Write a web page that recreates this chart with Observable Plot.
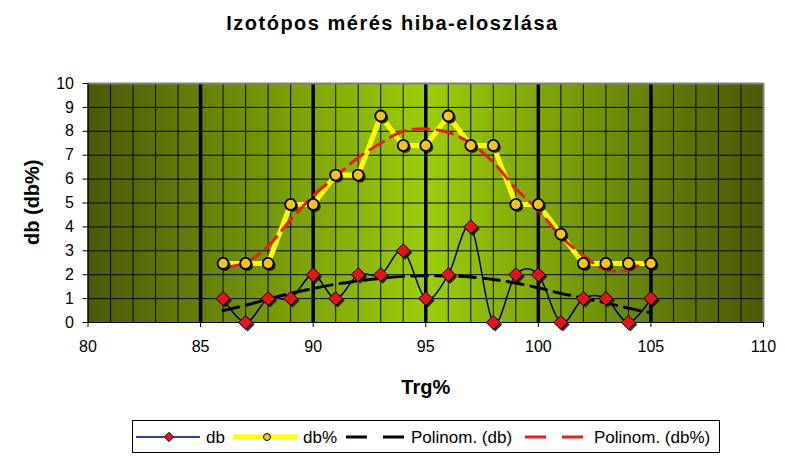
<!DOCTYPE html>
<html><head><meta charset="utf-8">
<script src="https://cdn.jsdelivr.net/npm/d3@7"></script>
<script src="https://cdn.jsdelivr.net/npm/@observablehq/plot@0.6"></script>
<style>
body{margin:0;background:#fff;font-family:"Liberation Sans",Arial,sans-serif;width:785px;height:460px;overflow:hidden;position:relative}
#title{position:absolute;top:12px;left:0;width:785px;text-align:center;font-weight:bold;font-size:20px;letter-spacing:1.5px;color:#000}
#chart{position:absolute;top:55px;left:0}
#legend{position:absolute;left:132px;top:420px}
</style></head><body>
<div id="title">Izotópos mérés hiba-eloszlása</div>
<div id="chart"></div>
<div id="legend"></div>
<script>
const trg = [86,87,88,89,90,91,92,93,94,95,96,97,98,99,100,101,102,103,104,105];
const db = [1,0,1,1,2,1,2,2,3,1,2,4,0,2,2,0,1,1,0,1];
const dbPct = [2.47,2.47,2.47,4.94,4.94,6.17,6.17,8.64,7.41,7.41,8.64,7.41,7.41,4.94,4.94,3.70,2.47,2.47,2.47,2.47];
const trendDb = [0.5,0.72,0.98,1.22,1.42,1.6,1.74,1.85,1.93,1.96,1.95,1.9,1.8,1.65,1.45,1.22,1.02,0.82,0.6,0.4];
const trendDbPct = [2.3,2.5,3.2,4.3,5.3,6.1,6.9,7.5,8.0,8.1,7.95,7.5,6.7,5.6,4.7,3.6,2.8,2.2,2.2,2.7];
const xTicks = [80,85,90,95,100,105,110];
const xMinor = [80,81,82,83,84,85,86,87,88,89,90,91,92,93,94,95,96,97,98,99,100,101,102,103,104,105,106,107,108,109,110];
const xMajor = [85,90,95,100,105];
const yTicks = [0,1,2,3,4,5,6,7,8,9,10];
const xTitle = "Trg%";
const yTitle = "db (db%)";
const seriesNames = ["db","db%","Polinom. (db)","Polinom. (db%)"];

const data = trg.map((x,i)=>({x, db:db[i], pct:dbPct[i], tDb:trendDb[i], tPct:trendDbPct[i]}));

function defsMark(){
  const d = d3.create("svg:defs");
  const lg = d.append("linearGradient").attr("id","bg").attr("x1","0").attr("x2","1").attr("y1","0").attr("y2","0");
  [["0","#4a5908"],["0.5","#9ccd0b"],["1","#4a5908"]].forEach(([o,c])=>lg.append("stop").attr("offset",o).attr("stop-color",c));
  return d.node();
}

const chart = Plot.plot({
  width:785, height:360,
  marginTop:28, marginLeft:87.5, marginRight:22, marginBottom:93,
  x:{domain:[80,110]},
  y:{domain:[0,10]},
  style:{fontFamily:"'Liberation Sans',Arial,sans-serif", color:"#000", background:"transparent"},
  marks:[
    defsMark,
    Plot.frame({fill:"url(#bg)", stroke:"none"}),
    Plot.ruleX(xMinor, {stroke:"#0a0a00", strokeWidth:1}),
    Plot.ruleY(yTicks, {stroke:"#0a0a00", strokeWidth:1}),
    Plot.ruleX(xMajor, {stroke:"#000", strokeWidth:3.5}),
    Plot.ruleY([10], {stroke:"#808080", strokeWidth:2}),
    Plot.ruleX([110], {stroke:"#808080", strokeWidth:2}),
    Plot.ruleX([80], {stroke:"#000", strokeWidth:1}),
    Plot.ruleY([0], {stroke:"#000", strokeWidth:1}),
    Plot.axisY(yTicks, {tickSize:5, tickPadding:9, fontSize:16, label:null}),
    Plot.axisX(xTicks, {tickSize:5, tickPadding:13, fontSize:16, label:null}),
    Plot.line(data, {x:"x", y:"pct", stroke:"#ffff00", strokeWidth:5}),
    Plot.line(data, {x:"x", y:"db", stroke:"#000080", strokeWidth:1.5, curve:"cardinal"}),
    Plot.line(data, {x:"x", y:"tPct", stroke:"#e3231b", strokeWidth:3, strokeDasharray:"16,8", curve:"catmull-rom"}),
    Plot.line(data, {x:"x", y:"tDb", stroke:"#000", strokeWidth:3, strokeDasharray:"16,8", curve:"catmull-rom"}),
    Plot.dot(data, {x:"x", y:"db", symbol:"diamond2", r:6.3, fill:"#111", fillOpacity:0.85, stroke:"none", dx:2, dy:2}),
    Plot.dot(data, {x:"x", y:"db", symbol:"diamond2", r:6.3, fill:"#e5141b", stroke:"#000", strokeWidth:1}),
    Plot.dot(data, {x:"x", y:"pct", r:5.5, fill:"#111", fillOpacity:0.85, stroke:"none", dx:2, dy:2}),
    Plot.dot(data, {x:"x", y:"pct", r:5.5, fill:"#f2c21f", stroke:"#000", strokeWidth:1.8}),
    Plot.text([xTitle], {frameAnchor:"bottom", dy:71, fontSize:20, fontWeight:"bold", letterSpacing:"1.5px"}),
    Plot.text([yTitle], {frameAnchor:"left", dx:-55, dy:42, rotate:-90, fontSize:20, fontWeight:"bold", letterSpacing:"1px"})
  ]
});
document.getElementById("chart").appendChild(chart);

// legend
const W = 587, H = 32;
const lg = d3.select("#legend").append("svg").attr("width",W+1).attr("height",H+1)
  .style("font-family","'Liberation Sans',Arial,sans-serif");
lg.append("rect").attr("x",0.5).attr("y",0.5).attr("width",W).attr("height",H).attr("fill","#fff").attr("stroke","#000");
const cy = 17, fs = 17, ty = cy + 6;
// db
lg.append("line").attr("x1",4).attr("x2",68).attr("y1",cy).attr("y2",cy).attr("stroke","#000080").attr("stroke-width",1.5);
lg.append("path").attr("d",d3.symbol(d3.symbolDiamond2, 55)()).attr("transform",`translate(37,${cy})`).attr("fill","#e5141b").attr("stroke","#000");
lg.append("text").attr("x",74).attr("y",ty).attr("font-size",fs).text(seriesNames[0]);
// db%
lg.append("line").attr("x1",101).attr("x2",166).attr("y1",cy).attr("y2",cy).attr("stroke","#ffff00").attr("stroke-width",5);
lg.append("circle").attr("cx",135).attr("cy",cy).attr("r",3.5).attr("fill","#f2c21f").attr("stroke","#000");
lg.append("text").attr("x",171).attr("y",ty).attr("font-size",fs).text(seriesNames[1]);
// trend db
lg.append("line").attr("x1",214).attr("x2",273).attr("y1",cy).attr("y2",cy).attr("stroke","#000").attr("stroke-width",3).attr("stroke-dasharray","21,16");
lg.append("text").attr("x",279).attr("y",ty).attr("font-size",fs).text(seriesNames[2]);
// trend db%
lg.append("line").attr("x1",393).attr("x2",452).attr("y1",cy).attr("y2",cy).attr("stroke","#e3231b").attr("stroke-width",3).attr("stroke-dasharray","21,16");
lg.append("text").attr("x",462).attr("y",ty).attr("font-size",fs).text(seriesNames[3]);
</script>
</body></html>
